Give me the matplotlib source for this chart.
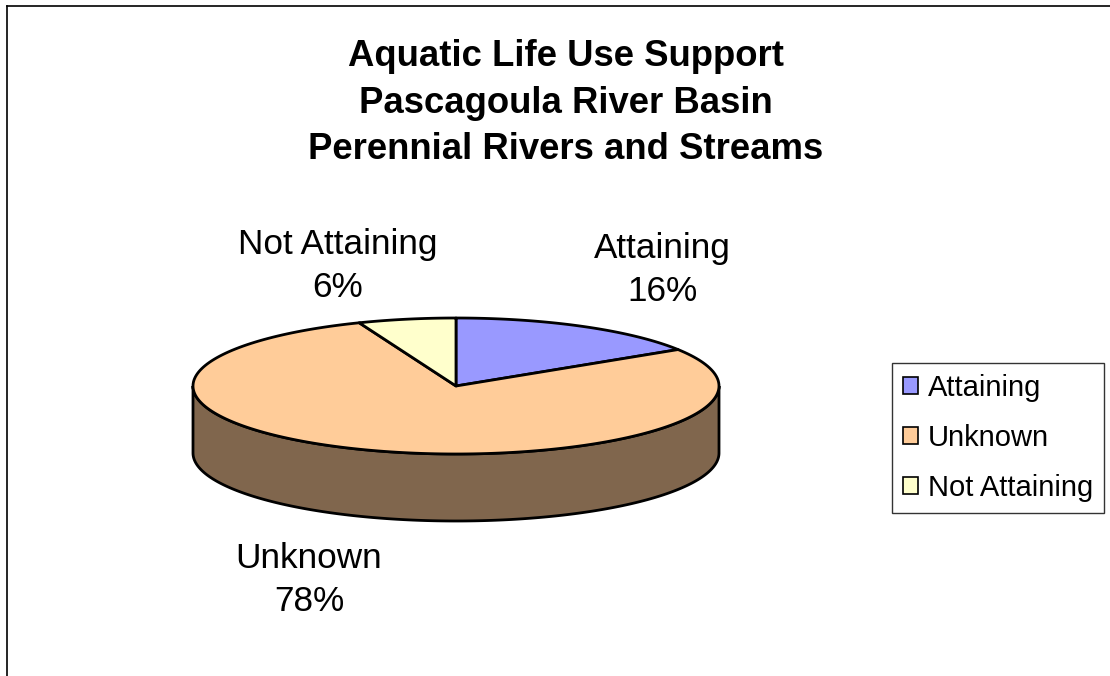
import numpy as np
import matplotlib
matplotlib.use('Agg')
import matplotlib.pyplot as plt
from matplotlib.patches import Polygon, Patch
from matplotlib.colors import to_rgb

plt.rcParams['font.family'] = ['Liberation Sans', 'DejaVu Sans']

# ========== 数据 ==========
categories = ['Attaining', 'Unknown', 'Not Attaining']
values = [16, 78, 6]
colors = ['#9999FF', '#FFCC99', '#FFFFCC']
title = 'Aquatic Life Use Support\nPascagoula River Basin\nPerennial Rivers and Streams'

# layout (pixel coords, y downward)
CX, CY = 456, 386
RX, RY = 263, 68
DEPTH = 67
label_pos = [(662, 270), (309, 580), (338, 266)]


def arc(t0, t1, n=200, dy=0):
    t = np.radians(np.linspace(t0, t1, n))
    return np.column_stack([CX + RX * np.cos(t), CY - RY * np.sin(t) + dy])


fig = plt.figure(figsize=(11.1, 6.76), dpi=100)
ax = fig.add_axes([0, 0, 1, 1])
ax.set_xlim(0, 1110)
ax.set_ylim(676, 0)
ax.axis('off')

total = float(sum(values))
spans = []
start = 90.0
for v in values:
    end = start - v / total * 360.0
    spans.append((end, start))
    start = end

# side walls (front half: angles -180..0)
for (lo, hi), c in zip(spans, colors):
    dark = tuple(0.5 * x for x in to_rgb(c))
    for off in (-360, 0, 360):
        a, b = max(lo + off, -180), min(hi + off, 0)
        if b > a:
            top = arc(a, b)
            bot = arc(b, a, dy=DEPTH)
            ax.add_patch(Polygon(np.vstack([top, bot]), closed=True,
                                 facecolor=dark, edgecolor='black', linewidth=2))

# top faces
for (lo, hi), c in zip(spans, colors):
    pts = np.vstack([[CX, CY], arc(hi, lo)])
    ax.add_patch(Polygon(pts, closed=True, facecolor=c,
                         edgecolor='black', linewidth=2, joinstyle='round'))

# data labels
for name, v, (lx, ly) in zip(categories, values, label_pos):
    ax.text(lx, ly, f'{name}\n{v}%', ha='center', va='center',
            fontsize=25.3, linespacing=1.4)

ax.text(566, 39, title, ha='center', va='top', fontsize=26.3,
        fontweight='bold', linespacing=1.43)

# chart border
ax.plot([7, 7], [676, 6], color='black', linewidth=1.2)
ax.plot([7, 1110], [6, 6], color='black', linewidth=1.2)

handles = [Patch(facecolor=c, edgecolor='black', linewidth=1.2) for c in colors]
leg = ax.legend(handles, categories, loc='upper left',
                bbox_to_anchor=(892, 363), bbox_transform=ax.transData,
                fontsize=21, frameon=True, fancybox=False, edgecolor='black',
                handlelength=0.5, handleheight=0.5, handletextpad=0.35,
                labelspacing=0.75, borderpad=0.38, borderaxespad=0)
leg.get_frame().set_linewidth(1.0)

fig.savefig('out.png', dpi=100, facecolor='white')
